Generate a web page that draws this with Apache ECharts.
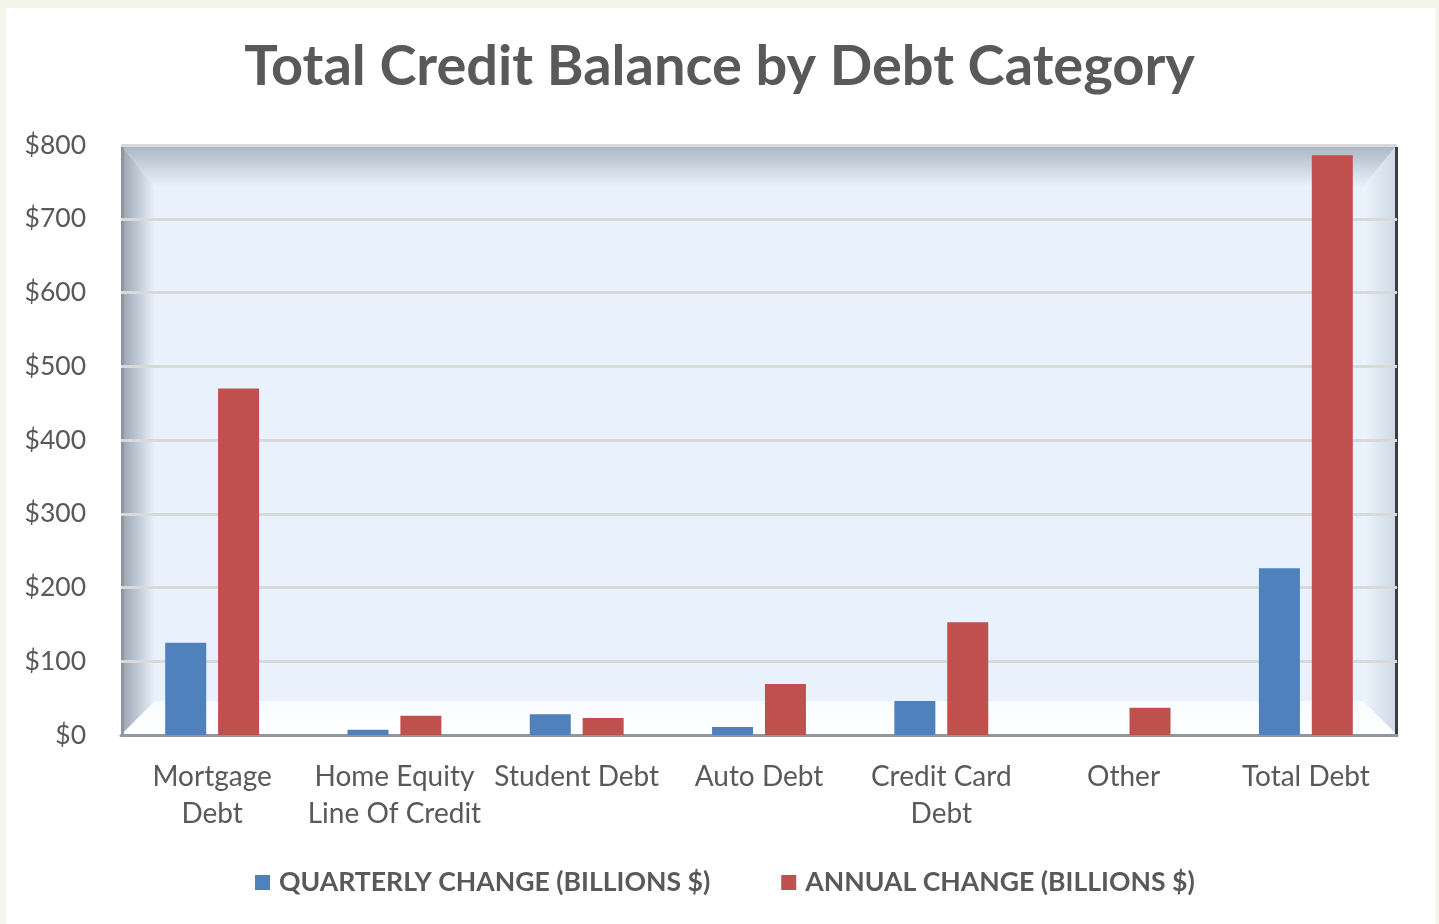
<!DOCTYPE html>
<html>
<head>
<meta charset="utf-8">
<script src="https://cdn.jsdelivr.net/npm/echarts@6/dist/echarts.min.js"></script>
<style>
html,body{margin:0;padding:0;background:#f4f4e9;}
#chart{width:1439px;height:924px;}
</style>
</head>
<body>
<div id="chart"></div>
<script>
const categories = ['Mortgage\nDebt', 'Home Equity\nLine Of Credit', 'Student Debt', 'Auto Debt', 'Credit Card\nDebt', 'Other', 'Total Debt'];
const quarterlyChange = [125, 7, 28, 11, 46, 0, 226];
const annualChange = [470, 26, 23, 69, 153, 37, 786];
const seriesNames = ['QUARTERLY CHANGE (BILLIONS $)', 'ANNUAL CHANGE (BILLIONS $)'];
const yTicks = { min: 0, max: 800, interval: 100 };

const FONT = 'Lato';
const chart = echarts.init(document.getElementById('chart'), null, { renderer: 'canvas' });

// plot frame geometry (decoration only)
const L = 121, R = 1397, T = 145, B = 735, D = 34;

function lin(x0, y0, x1, y1, c0, c1) {
  return new echarts.graphic.LinearGradient(x0, y0, x1, y1, [{ offset: 0, color: c0 }, { offset: 1, color: c1 }]);
}

const option = {
  backgroundColor: '#f4f4e9',
  animation: false,
  title: {
    text: 'Total Credit Balance by Debt Category',
    left: 'center',
    top: 34,
    textStyle: { fontFamily: FONT, fontWeight: 'bold', fontSize: 56, color: '#595959' }
  },
  legend: {
    data: seriesNames,
    bottom: 23,
    left: 250,
    itemWidth: 15,
    itemHeight: 15,
    itemGap: 71,
    icon: 'rect',
    textStyle: { fontFamily: FONT, fontWeight: 'bold', fontSize: 26.6, color: '#595959', padding: [0, 0, 0, 4] }
  },
  grid: { left: L, right: 1439 - R, top: T, bottom: 924 - B, containLabel: false },
  xAxis: {
    type: 'category',
    data: categories,
    axisLine: { show: true, lineStyle: { color: '#8e98a4', width: 3 } },
    axisTick: { show: false },
    axisLabel: { fontFamily: FONT, fontSize: 28, color: '#595959', margin: 23, lineHeight: 37, interval: 0 }
  },
  yAxis: {
    type: 'value',
    min: yTicks.min,
    max: yTicks.max,
    interval: yTicks.interval,
    axisLine: { show: false },
    axisTick: { show: false },
    axisLabel: { fontFamily: FONT, fontSize: 26.5, color: '#595959', margin: 35, formatter: v => '$' + v },
    splitLine: { show: true, lineStyle: { color: '#d9d9d9', width: 3 } }
  },
  graphic: [
    { type: 'rect', z: -10, silent: true, shape: { x: 6, y: 8, width: 1430, height: 930 }, style: { fill: '#ffffff' } },
    // back wall
    { type: 'rect', z: -9, silent: true, shape: { x: L, y: T, width: R - L, height: B - T }, style: { fill: '#e9f2fc' } },
    // top wall
    { type: 'polygon', z: -8, silent: true, shape: { points: [[L, T], [R, T], [R - D, T + D + 8], [L + D, T + D + 8]] },
      style: { fill: lin(0, 0, 0, 1, '#aab5c2', '#e9f2fc') } },
    // left wall
    { type: 'polygon', z: -8, silent: true, shape: { points: [[L, T], [L + D, T + D + 8], [L + D, B - D], [L, B]] },
      style: { fill: lin(0, 0, 1, 0, '#98a3b0', '#e9f2fc') } },
    // right wall
    { type: 'polygon', z: -8, silent: true, shape: { points: [[R, T], [R, B], [R - D, B - D], [R - D, T + D + 8]] },
      style: { fill: lin(0, 0, 1, 0, '#edf5fd', '#cdd8e4') } },
    // floor
    { type: 'polygon', z: -7, silent: true, shape: { points: [[L, B], [L + D, B - D], [R - D, B - D], [R, B]] },
      style: { fill: lin(0, 0, 0, 1, '#f8fbff', '#ffffff') } },
    // left edge line
    { type: 'rect', z: -6, silent: true, shape: { x: L, y: T, width: 3, height: B - T }, style: { fill: '#8d97a3' } },
    // right dark edge
    { type: 'rect', z: -6, silent: true, shape: { x: R - 2, y: T + 2, width: 3, height: B - T }, style: { fill: '#3a3e44' } },
    // top light edge
    { type: 'rect', z: -6, silent: true, shape: { x: L, y: T - 1, width: R - L, height: 3 }, style: { fill: '#dfe4ea' } }
  ],
  series: [
    {
      name: seriesNames[0], type: 'bar', data: quarterlyChange,
      barWidth: 41, barGap: '29%',
      itemStyle: { color: '#4f81bd' }
    },
    {
      name: seriesNames[1], type: 'bar', data: annualChange,
      barWidth: 41, barGap: '29%',
      itemStyle: { color: '#c0504d' }
    }
  ]
};
chart.setOption(option);
</script>
</body>
</html>
